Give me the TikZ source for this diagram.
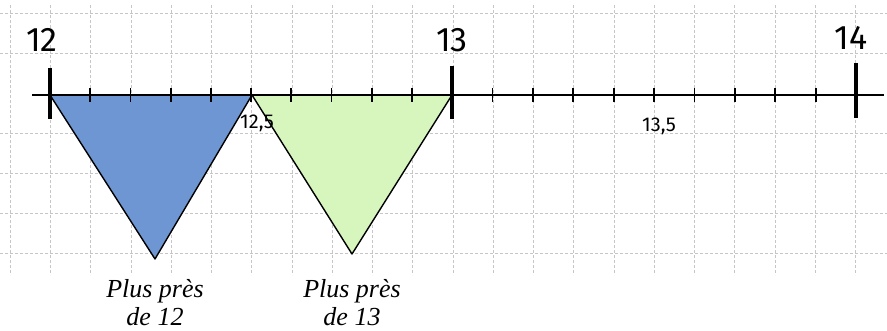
\documentclass[tikz,border=0pt]{standalone}
\usepackage{fontspec}
\setmainfont{Liberation Serif}
\newfontfamily\handfont{Fira Sans}
\begin{document}
\begin{tikzpicture}[x=1pt,y=-1pt,
  gridline/.style={gray!45,densely dashed,line width=0.5pt},
  axisline/.style={black,line width=2.2pt},
  minortick/.style={black,line width=1.8pt},
  majortick/.style={black,line width=4pt},
  region/.style={draw=black,line width=1.4pt,line join=round},
  bignum/.style={font=\handfont\fontsize{34}{34}\selectfont},
  smallnum/.style={font=\handfont\fontsize{20}{20}\selectfont},
  caption/.style={font=\itshape\fontsize{26}{28}\selectfont,align=center}]
\useasboundingbox (0,0) rectangle (887,331);
\fill[white] (0,0) rectangle (887,331);
% grid
\foreach \i in {0,...,21} {
  \draw[gridline] ({10+40.25*\i},5) -- ({10+40.25*\i},275);
}
\foreach \j in {13,53,133,173,213,253} {
  \draw[gridline] (0,\j) -- (887,\j);
}
% triangles
\coordinate (A) at (50,95);
\coordinate (M) at (252,95);
\coordinate (B) at (452,95);
\coordinate (C) at (856,95);
\coordinate (P) at (155,259);
\coordinate (Q) at (352,254);
\filldraw[region,fill={rgb,255:red,110;green,150;blue,210}] (A) -- (M) -- (P) -- cycle;
\filldraw[region,fill={rgb,255:red,214;green,246;blue,190}] (M) -- (B) -- (Q) -- cycle;
% axis
\coordinate (L) at (32,95);
\coordinate (R) at (884,95);
\draw[axisline] (L) -- (R);
\foreach \i in {1,...,9} {
  \draw[minortick] ({50+40.2*\i},88) -- ({50+40.2*\i},102);
  \draw[minortick] ({452+40.4*\i},88) -- ({452+40.4*\i},102);
}
\draw[majortick] (50,68) -- (50,119);
\draw[majortick] (452,66) -- (452,119);
\draw[majortick] (856,63) -- (856,118);
% labels
\node[bignum] (l12) at (42,40) {12};
\node[bignum] (l13) at (452,40) {13};
\node[bignum] (l14) at (851,38) {14};
\node[smallnum] (l125) at (257,123) {12,5};
\node[smallnum] (l135) at (659,126) {13,5};
\node[caption] (c12) at (155,303) {Plus près\\de 12};
\node[caption] (c13) at (352,303) {Plus près\\de 13};
\end{tikzpicture}
\end{document}
